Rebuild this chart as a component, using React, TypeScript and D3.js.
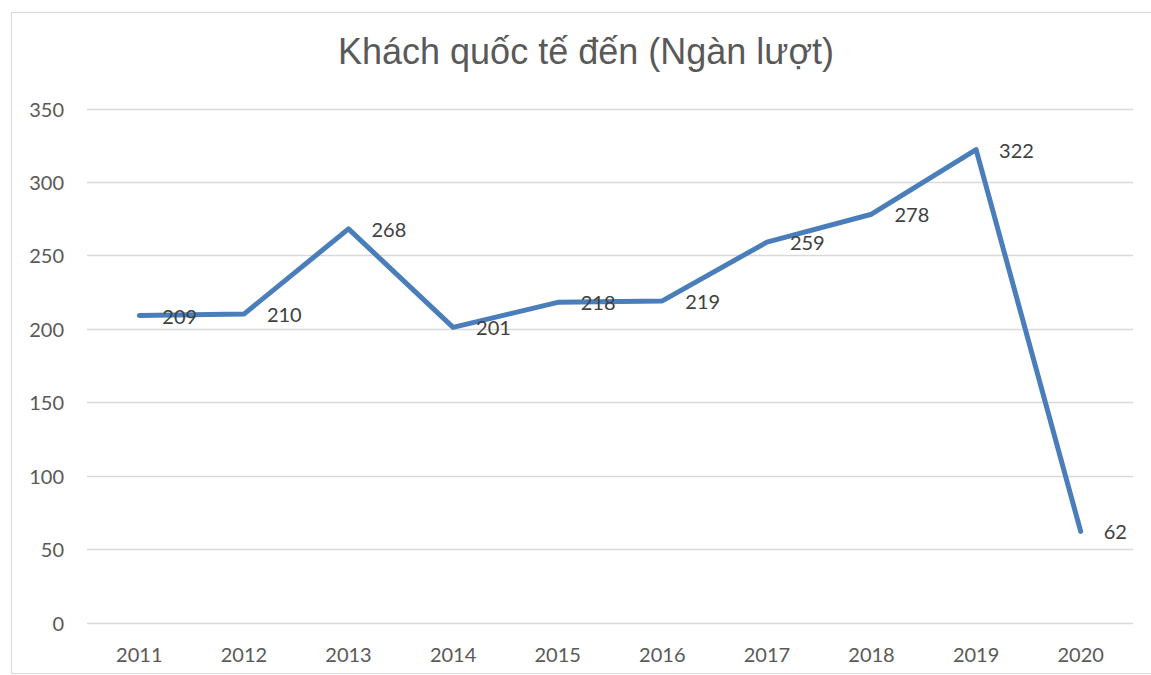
import React, { useEffect, useRef } from "react";
import * as d3 from "d3";

const years = ["2011", "2012", "2013", "2014", "2015", "2016", "2017", "2018", "2019", "2020"];
const visitors = [209, 210, 268, 201, 218, 219, 259, 278, 322, 62];
const yTicks = [0, 50, 100, 150, 200, 250, 300, 350];
const title = "Khách quốc tế đến (Ngàn lượt)";

const W = 1151;
const H = 675;
const plot = { left: 87, right: 1133, top: 108.5, bottom: 622.5 };

export default function App() {
  const ref = useRef<SVGSVGElement>(null);

  useEffect(() => {
    const svg = d3.select(ref.current);
    svg.selectAll("*").remove();

    svg.append("rect").attr("x", 0).attr("y", 0).attr("width", W).attr("height", H).attr("fill", "#ffffff");
    svg.append("rect")
      .attr("x", 11.5).attr("y", 12.5).attr("width", W + 10).attr("height", H - 14)
      .attr("fill", "none").attr("stroke", "#d9d9d9").attr("stroke-width", 1);

    const x = d3.scaleBand<string>().domain(years).range([plot.left, plot.right]);
    const y = d3.scaleLinear().domain([0, 350]).range([plot.bottom, plot.top]);

    const grid = svg.append("g");
    yTicks.forEach((t) => {
      grid.append("line")
        .attr("x1", plot.left).attr("x2", plot.right)
        .attr("y1", Math.round(y(t)) + 0.5).attr("y2", Math.round(y(t)) + 0.5)
        .attr("stroke", "#d9d9d9").attr("stroke-width", 1.3);
      grid.append("text")
        .attr("x", 64).attr("y", y(t))
        .attr("text-anchor", "end").attr("dominant-baseline", "central")
        .attr("font-family", "Lato, 'Open Sans', sans-serif").attr("font-size", 20)
        .attr("fill", "#595959").text(String(t));
    });

    years.forEach((yr) => {
      svg.append("text")
        .attr("x", (x(yr) as number) + x.bandwidth() / 2).attr("y", 662)
        .attr("text-anchor", "middle")
        .attr("font-family", "Lato, 'Open Sans', sans-serif").attr("font-size", 20)
        .attr("fill", "#595959").text(yr);
    });

    const cx = (d: string) => (x(d) as number) + x.bandwidth() / 2;
    const line = d3.line<number>()
      .x((_, i) => cx(years[i]))
      .y((d) => y(d));

    svg.append("path")
      .datum(visitors)
      .attr("d", line)
      .attr("fill", "none")
      .attr("stroke", "#4a7ebb")
      .attr("stroke-width", 5)
      .attr("stroke-linejoin", "round")
      .attr("stroke-linecap", "round");

    visitors.forEach((v, i) => {
      svg.append("text")
        .attr("x", cx(years[i]) + 23).attr("y", y(v))
        .attr("dominant-baseline", "central")
        .attr("font-family", "Lato, 'Open Sans', sans-serif").attr("font-size", 20)
        .attr("fill", "#404040").text(String(v));
    });

    svg.append("text")
      .attr("x", 586).attr("y", 64)
      .attr("text-anchor", "middle")
      .attr("font-family", "'Liberation Sans', Arial, sans-serif").attr("font-size", 36)
      .attr("fill", "#595959").text(title);
  }, []);

  return (
    <div style={{ position: "absolute", left: 0, top: 0 }}>
      <svg ref={ref} width={W} height={H} style={{ display: "block" }} />
    </div>
  );
}
